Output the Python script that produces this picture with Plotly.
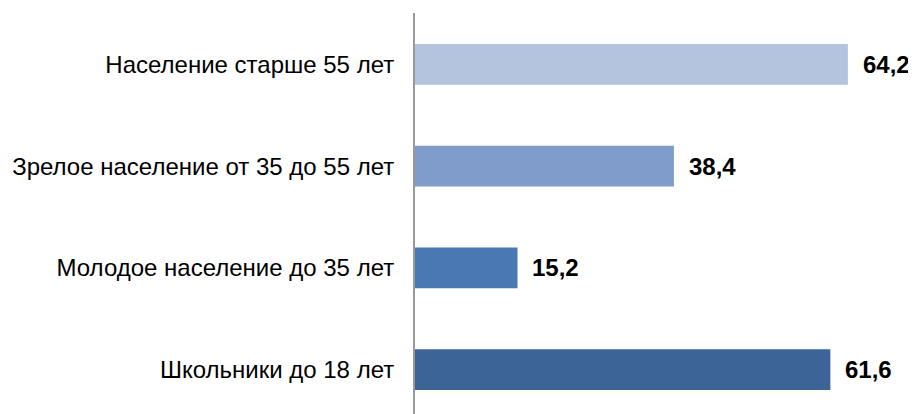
import plotly.graph_objects as go

categories = ["Школьники до 18 лет", "Молодое население до 35 лет",
              "Зрелое население от 35 до 55 лет", "Население старше 55 лет"]
values = [61.6, 15.2, 38.4, 64.2]
labels = ["61,6", "15,2", "38,4", "64,2"]
colors = ["#3D6496", "#4A78B2", "#7F9CCA", "#B4C3DE"]

idx = list(range(len(categories)))

fig = go.Figure()
fig.add_trace(go.Bar(
    x=values, y=idx, orientation="h", width=0.40,
    marker=dict(color=colors, line=dict(width=0)),
    hoverinfo="skip",
))
for v, i, t in zip(values, idx, labels):
    fig.add_annotation(x=v, y=i, text="<b>" + t + "</b>", showarrow=False, xanchor="left",
                       xshift=13, font=dict(family="Liberation Sans, Arial", size=24, color="#000000"))

fig.update_layout(
    width=908, height=406,
    margin=dict(l=407, r=0, t=5, b=0, autoexpand=False),
    plot_bgcolor="white", paper_bgcolor="white",
    showlegend=False,
    font=dict(family="Liberation Sans, Arial", size=24, color="#000000"),
    xaxis=dict(range=[0, 74.3], visible=False, fixedrange=True),
    yaxis=dict(range=[-0.437, 3.506], tickmode="array", tickvals=idx, ticktext=categories,
               showline=True, linecolor="#999999", linewidth=2, showgrid=False,
               zeroline=False, ticks="outside", ticklen=14, tickcolor="white",
               automargin=False,
               tickfont=dict(size=24, family="Liberation Sans, Arial", color="#000000")),
)
fig.write_html("out.html")
